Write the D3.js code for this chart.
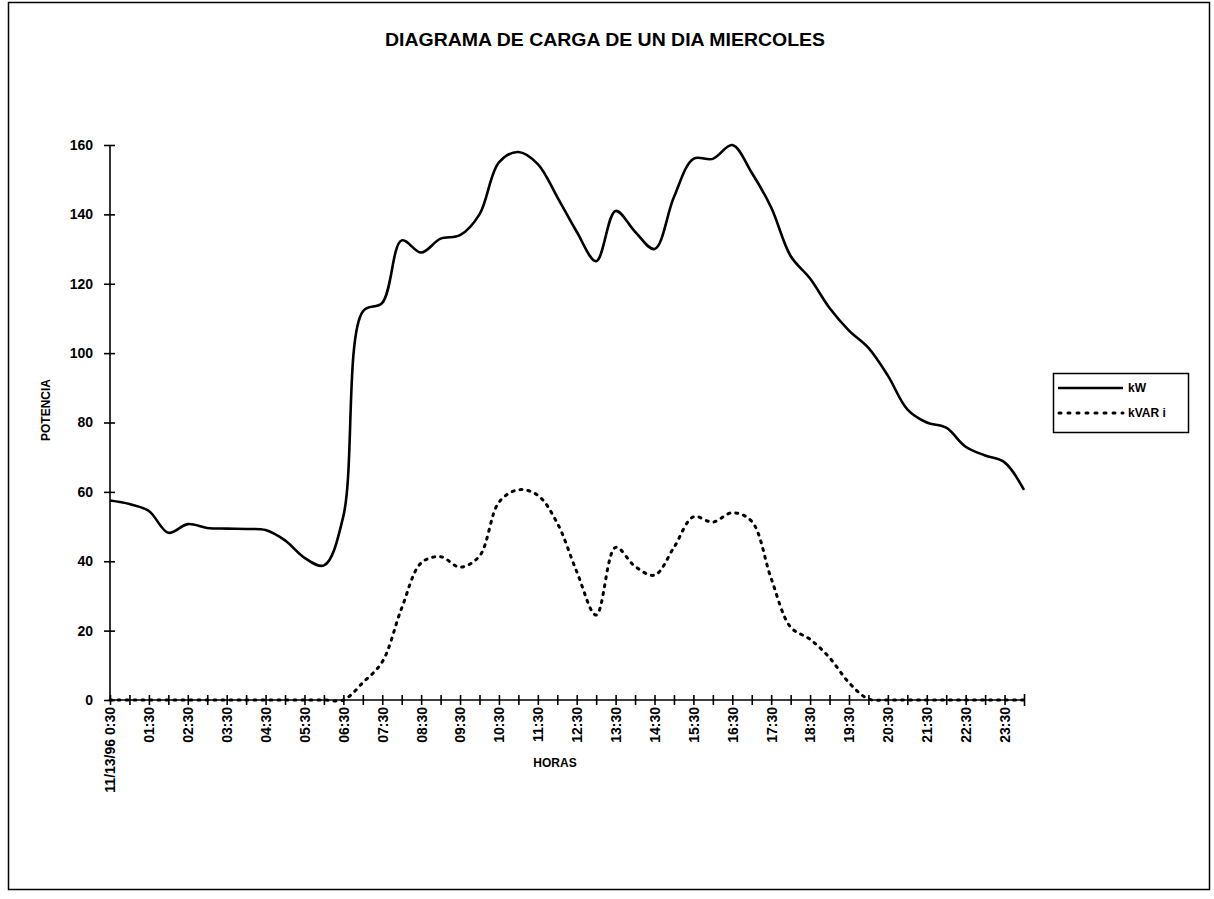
<!DOCTYPE html>
<html>
<head>
<meta charset="utf-8">
<script src="https://cdn.jsdelivr.net/npm/d3@7"></script>
<style>
  body { margin: 0; background: #fff; }
  svg { font-family: "Liberation Sans", Arial, sans-serif; font-weight: bold; }
  .axis path, .axis line { stroke: #000; stroke-width: 1.6; }
  .axis text { fill: #000; font-weight: bold; }
</style>
</head>
<body>
<div id="chart"></div>
<script>
"use strict";

// Hour of each reading (half-hour steps), as printed on the meter log
var horas = ["00:30","01:00","01:30","02:00","02:30","03:00","03:30","04:00",
             "04:30","05:00","05:30","06:00","06:30","07:00","07:30","08:00",
             "08:30","09:00","09:30","10:00","10:30","11:00","11:30","12:00",
             "12:30","13:00","13:30","14:00","14:30","15:00","15:30","16:00",
             "16:30","17:00","17:30","18:00","18:30","19:00","19:30","20:00",
             "20:30","21:00","21:30","22:00","22:30","23:00","23:30","24:00"];

// Active power (kW)
var kW = [57.5, 56.5, 54.5, 48.2, 50.7, 49.6, 49.4, 49.3,
          49.0, 46.0, 41.0, 38.8, 53.0, 112.0, 114.5, 132.5,
          129.0, 133.0, 134.0, 140.0, 155.0, 158.0, 154.5, 145.0,
          135.0, 126.5, 141.0, 135.0, 130.0, 145.0, 156.0, 156.0,
          160.0, 152.0, 142.0, 128.0, 121.5, 113.0, 106.5, 101.5,
          93.5, 83.8, 80.0, 78.5, 73.0, 70.5, 68.5, 60.6];

// Inductive reactive power (kVAR i)
var kVARi = [0, 0, 0, 0, 0, 0, 0, 0,
             0, 0, 0, 0, 0, 5.0, 11.0, 26.5,
             39.5, 41.3, 38.3, 41.5, 57.0, 60.6, 59.0, 51.0,
             37.0, 24.5, 44.0, 38.5, 36.0, 44.0, 52.8, 51.3,
             54.0, 51.5, 35.0, 21.0, 17.5, 12.2, 5.0, 0.3,
             0, 0, 0, 0, 0, 0, 0, 0];

// Axis labels
var xLabels = ["11/13/96 0:30","01:30","02:30","03:30","04:30","05:30","06:30",
               "07:30","08:30","09:30","10:30","11:30","12:30","13:30","14:30",
               "15:30","16:30","17:30","18:30","19:30","20:30","21:30","22:30","23:30"];
var yTicks = [0, 20, 40, 60, 80, 100, 120, 140, 160];

var toMin = function (h) {
  var p = h.split(":");
  return +p[0] * 60 + +p[1];
};

var W = 1214, H = 899;
var svg = d3.select("#chart").append("svg")
            .attr("width", W).attr("height", H);

// outer frame
svg.append("rect")
   .attr("x", 8.5).attr("y", 2.5)
   .attr("width", 1201).attr("height", 887)
   .attr("fill", "none").attr("stroke", "#000").attr("stroke-width", 1.5);

var x = d3.scaleLinear().domain([toMin(horas[0]), toMin(horas[horas.length - 1])]).range([110, 1024]);
var y = d3.scaleLinear().domain([0, 160]).range([700, 145]);

// title
svg.append("text")
   .attr("x", 385).attr("y", 46)
   .attr("textLength", 440).attr("lengthAdjust", "spacingAndGlyphs")
   .style("font-size", "18px")
   .text("DIAGRAMA DE CARGA DE UN DIA MIERCOLES");

// y axis
var yAxis = d3.axisLeft(y).tickValues(yTicks).tickSize(6).tickPadding(11);
var gy = svg.append("g").attr("class", "axis")
            .attr("transform", "translate(110,0)")
            .call(yAxis);
gy.select(".domain").attr("d", "M0," + y(0) + "V" + y(160));
gy.selectAll(".tick line").attr("x1", -6).attr("x2", 5);
gy.selectAll(".tick text").style("font-size", "14px");

// x axis: tick every half hour, label every hour
var tickMins = horas.map(toMin);
var labelByMin = {};
xLabels.forEach(function (l) {
  var t = l.split(" ");
  labelByMin[toMin(t[t.length - 1])] = l;
});

var xAxis = d3.axisBottom(x).tickValues(tickMins).tickSize(6)
              .tickFormat(function (m) { return labelByMin[m] || ""; });
var gx = svg.append("g").attr("class", "axis")
            .attr("transform", "translate(0," + y(0) + ")")
            .call(xAxis);
gx.select(".domain").attr("d", "M" + x.range()[0] + ",0H" + x.range()[1]);
gx.selectAll(".tick line").attr("y1", -5).attr("y2", 5);
gx.selectAll(".tick").filter(function (m) { return m === tickMins[tickMins.length - 1]; })
  .select("line").attr("y1", -6).attr("y2", 6);
gx.selectAll(".tick text")
  .style("font-size", "14px")
  .attr("text-anchor", "end")
  .attr("transform", "rotate(-90)")
  .attr("x", -7).attr("y", 0).attr("dy", "0.35em");

// axis titles
svg.append("text")
   .attr("transform", "translate(50,410) rotate(-90)")
   .attr("text-anchor", "middle")
   .style("font-size", "12px")
   .text("POTENCIA");

svg.append("text")
   .attr("x", 555).attr("y", 767)
   .attr("text-anchor", "middle")
   .style("font-size", "12px")
   .text("HORAS");

// series
var line = d3.line()
             .x(function (d, i) { return x(toMin(horas[i])); })
             .y(function (d) { return y(d); })
             .curve(d3.curveCatmullRom.alpha(0.5));

svg.append("path")
   .datum(kVARi)
   .attr("d", line)
   .attr("fill", "none")
   .attr("stroke", "#000")
   .attr("stroke-width", 3)
   .attr("stroke-linecap", "round")
   .attr("stroke-dasharray", "2,6");

svg.append("path")
   .datum(kW)
   .attr("d", line)
   .attr("fill", "none")
   .attr("stroke", "#000")
   .attr("stroke-width", 2.6);

// legend
var lg = svg.append("g").attr("transform", "translate(1053,373)");
lg.append("rect")
  .attr("x", 0.5).attr("y", 0.5).attr("width", 135).attr("height", 59)
  .attr("fill", "#fff").attr("stroke", "#000").attr("stroke-width", 1.5);
lg.append("line")
  .attr("x1", 5).attr("x2", 70).attr("y1", 15).attr("y2", 15)
  .attr("stroke", "#000").attr("stroke-width", 2.6);
lg.append("line")
  .attr("x1", 6).attr("x2", 70).attr("y1", 40).attr("y2", 40)
  .attr("stroke", "#000").attr("stroke-width", 3)
  .attr("stroke-linecap", "round").attr("stroke-dasharray", "2,7");
lg.append("text").attr("x", 75).attr("y", 19).style("font-size", "12px").text("kW");
lg.append("text").attr("x", 75).attr("y", 44).style("font-size", "12px").text("kVAR i");
</script>
</body>
</html>
